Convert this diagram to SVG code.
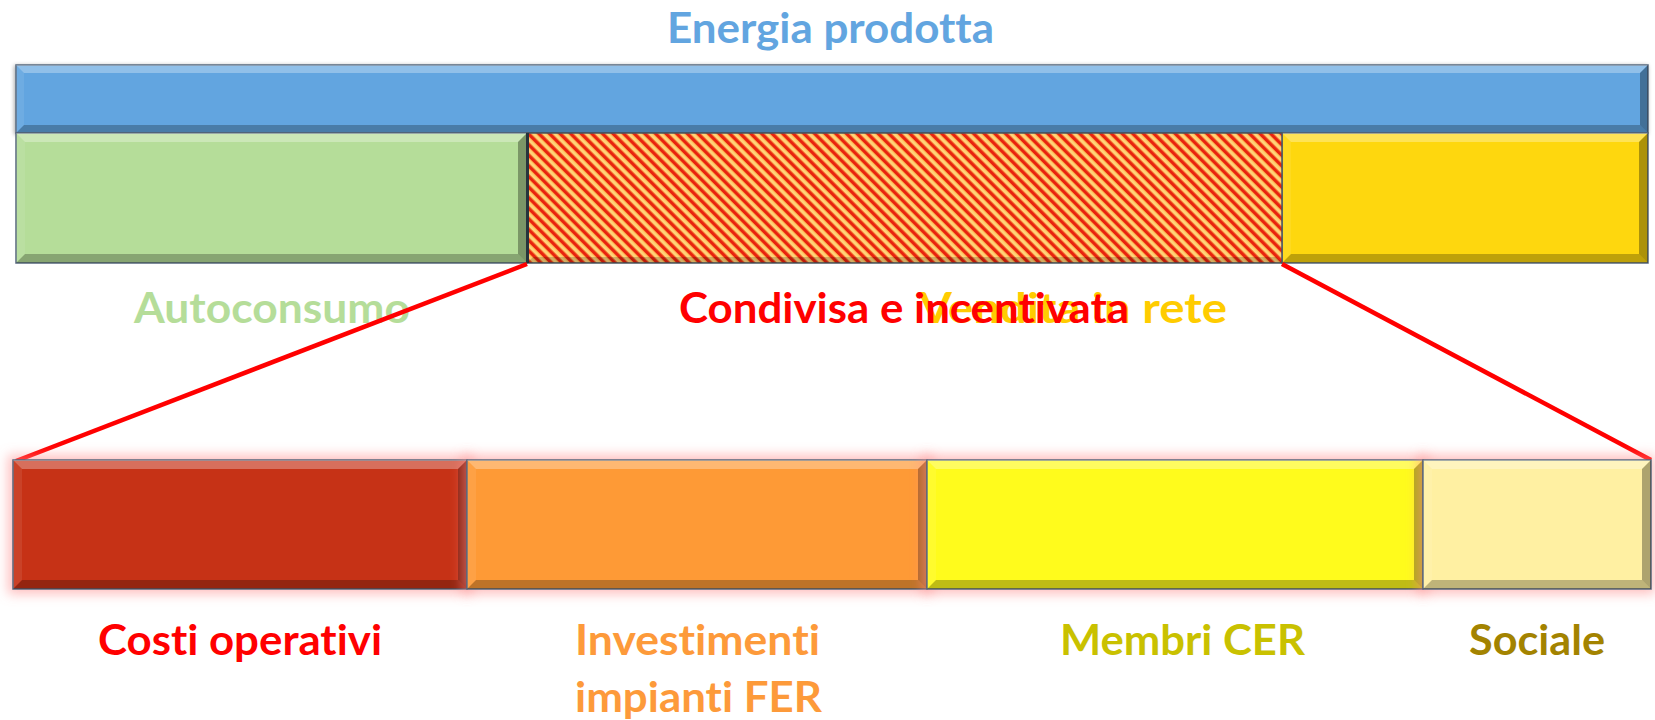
<svg xmlns="http://www.w3.org/2000/svg" width="1655" height="720" viewBox="0 0 1655 720">
  <defs>
    <style>
      .lbl { font-family: "Lato", "Liberation Sans", sans-serif; font-weight: bold; font-size: 42px; font-variant-ligatures: none; font-feature-settings: "liga" 0, "clig" 0; }
      .bar { stroke: #56677c; stroke-width: 1.5; }
      .bt { fill: #ffffff; fill-opacity: 0.30; }
      .bb { fill: #000000; fill-opacity: 0.25; }
      .bl { fill: #ffffff; fill-opacity: 0.08; }
      .br { fill: #000000; fill-opacity: 0.32; }
      .glow { fill: #ff8a8a; fill-opacity: 0.55; filter: url(#blur); }
      .conn { stroke: #ff0000; stroke-width: 4.5; fill: none; stroke-linecap: butt; }
    </style>
    <filter id="blur" x="-10%" y="-30%" width="120%" height="160%">
      <feGaussianBlur stdDeviation="6"/>
    </filter>
    <filter id="shadow" x="-5%" y="-20%" width="110%" height="140%">
      <feGaussianBlur in="SourceAlpha" stdDeviation="2"/>
      <feOffset dx="-1" dy="1"/>
      <feComponentTransfer><feFuncA type="linear" slope="0.35"/></feComponentTransfer>
      <feMerge><feMergeNode/><feMergeNode in="SourceGraphic"/></feMerge>
    </filter>
    <pattern id="hatch" patternUnits="userSpaceOnUse" width="7.5" height="10" patternTransform="rotate(-45)">
      <rect x="0" y="0" width="7.5" height="10" fill="#ffb04a"/>
      <rect x="3.8" y="0" width="2.6" height="10" fill="#ffd47c"/>
      <rect x="0" y="0" width="3.2" height="10" fill="#e8230f"/>
    </pattern>
  </defs>

  <rect width="1655" height="720" fill="#ffffff"/>

  <!-- Top: Energia prodotta -->
  <g id="energia-prodotta" filter="url(#shadow)">
    <rect class="bar" x="16" y="65" width="1632" height="68" fill="#62a5e0"/>
    <polygon class="bt" points="16,65 1648,65 1640,73 24,73"/>
    <polygon class="bb" points="16,133 1648,133 1640,125 24,125"/>
    <polygon class="bl" points="16,65 24,73 24,125 16,133"/>
    <polygon class="br" points="1648,65 1648,133 1640,125 1640,73"/>
  </g>
  <text class="lbl" x="667" y="43" textLength="327" lengthAdjust="spacingAndGlyphs" fill="#62a5e0">Energia prodotta</text>

  <g id="autoconsumo">
    <rect class="bar" x="16" y="133" width="511" height="130" fill="#b5dd99"/>
    <polygon class="bt" points="16,133 527,133 518,142 25,142"/>
    <polygon class="bb" points="16,263 527,263 518,254 25,254"/>
    <polygon class="bl" points="16,133 25,142 25,254 16,263"/>
    <polygon class="br" points="527,133 527,263 518,254 518,142"/>
    <text class="lbl" x="134" y="323" textLength="276" lengthAdjust="spacingAndGlyphs" fill="#b5dd99">Autoconsumo</text>
  </g>

  <g id="vendita-in-rete">
    <rect class="bar" x="1282" y="133" width="366" height="130" fill="#fed70e"/>
    <polygon class="bt" points="1282,133 1648,133 1639,142 1291,142"/>
    <polygon class="bb" points="1282,263 1648,263 1639,254 1291,254"/>
    <polygon class="bl" points="1282,133 1291,142 1291,254 1282,263"/>
    <polygon class="br" points="1648,133 1648,263 1639,254 1639,142"/>
    <text class="lbl" x="919" y="323" textLength="308" lengthAdjust="spacingAndGlyphs" fill="#ffcc00">Vendita in rete</text>
  </g>

  <g id="condivisa-incentivata">
    <rect x="527" y="133" width="755" height="130" fill="url(#hatch)" stroke="#4a5660" stroke-width="1.5"/>
    <line x1="527.5" y1="133" x2="527.5" y2="263" stroke="#26343c" stroke-width="3"/>
    <polygon fill="#000" fill-opacity="0.18" points="527,263 1282,263 1276,257 533,257"/>
    <text class="lbl" x="679" y="323" textLength="450" lengthAdjust="spacingAndGlyphs" fill="#ff0000">Condivisa e incentivata</text>
  </g>

  <!-- Connectors -->
  <g id="connectors">
    <line class="conn" x1="527" y1="264" x2="16" y2="461"/>
    <line class="conn" x1="1282" y1="264" x2="1651" y2="460"/>
  </g>

  <!-- Bottom bars -->
  <g id="costi-operativi">
    <rect class="glow" x="8" y="455" width="464" height="139"/>
    <rect class="bar" x="13" y="460" width="454" height="129" fill="#c63216"/>
    <polygon class="bt" points="13,460 467,460 458,469 22,469"/>
    <polygon class="bb" points="13,589 467,589 458,580 22,580"/>
    <polygon class="bl" points="13,460 22,469 22,580 13,589"/>
    <polygon class="br" points="467,460 467,589 458,580 458,469"/>
    <text class="lbl" x="98" y="655" textLength="284" lengthAdjust="spacingAndGlyphs" fill="#ff0000">Costi operativi</text>
  </g>

  <g id="investimenti">
    <rect class="glow" x="462" y="455" width="470" height="139"/>
    <rect class="bar" x="467" y="460" width="460" height="129" fill="#fe9a36"/>
    <polygon class="bt" points="467,460 927,460 918,469 476,469"/>
    <polygon class="bb" points="467,589 927,589 918,580 476,580"/>
    <polygon class="bl" points="467,460 476,469 476,580 467,589"/>
    <polygon class="br" points="927,460 927,589 918,580 918,469"/>
    <text class="lbl" x="575" y="655" textLength="245" lengthAdjust="spacingAndGlyphs" fill="#fd9a3a">Investimenti</text>
    <text class="lbl" x="575" y="712" textLength="247" lengthAdjust="spacingAndGlyphs" fill="#fd9a3a">impianti FER</text>
  </g>

  <g id="membri-cer">
    <rect class="glow" x="922" y="455" width="506" height="139"/>
    <rect class="bar" x="927" y="460" width="496" height="129" fill="#fffb1c"/>
    <polygon class="bt" points="927,460 1423,460 1414,469 936,469"/>
    <polygon class="bb" points="927,589 1423,589 1414,580 936,580"/>
    <polygon class="bl" points="927,460 936,469 936,580 927,589"/>
    <polygon class="br" points="1423,460 1423,589 1414,580 1414,469"/>
    <text class="lbl" x="1060" y="655" textLength="245" lengthAdjust="spacingAndGlyphs" fill="#c9c100">Membri CER</text>
  </g>

  <g id="sociale">
    <rect class="glow" x="1418" y="455" width="237" height="139"/>
    <rect class="bar" x="1423" y="460" width="228" height="129" fill="#fff0a2"/>
    <polygon class="bt" points="1423,460 1651,460 1642,469 1432,469"/>
    <polygon class="bb" points="1423,589 1651,589 1642,580 1432,580"/>
    <polygon class="bl" points="1423,460 1432,469 1432,580 1423,589"/>
    <polygon class="br" points="1651,460 1651,589 1642,580 1642,469"/>
    <text class="lbl" x="1469" y="655" textLength="136" lengthAdjust="spacingAndGlyphs" fill="#a38300">Sociale</text>
  </g>
</svg>
